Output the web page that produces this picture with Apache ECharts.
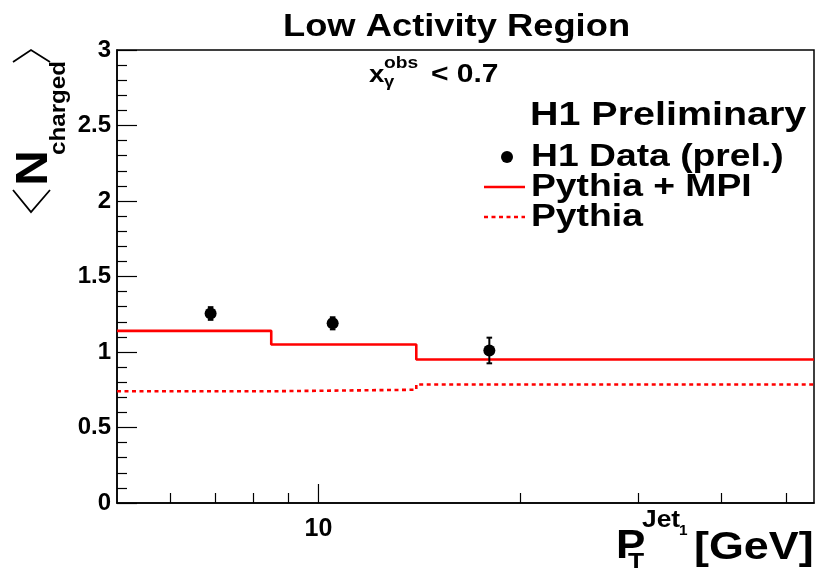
<!DOCTYPE html>
<html>
<head>
<meta charset="utf-8">
<script src="https://cdn.jsdelivr.net/npm/echarts@6/dist/echarts.min.js"></script>
<style>
  html, body { margin: 0; padding: 0; background: #fff; }
  #chart { width: 817px; height: 568px; }
</style>
</head>
<body>
<div id="chart"></div>
<script>
// Bin edges of the leading-jet transverse momentum (GeV)
const binEdges = [5, 8.5, 14, 55];
// Model predictions per bin
const pythiaMpi = [1.14, 1.05, 0.95];
const pythiaNoMpi = [0.74, 0.75, 0.785];
// Measured points: x position, mean multiplicity, uncertainty
const dataX = [6.9, 10.5, 18];
const dataY = [1.255, 1.19, 1.01];
const dataErr = [0.042, 0.04, 0.085];
// Axis ticks
const xMinorTicks = [6, 7, 8, 9, 20, 30, 40, 50];
const xMajorTicks = [10];
const xTickLabels = [10];
const yMin = 0, yMax = 3, yStep = 0.5;

const FONT = '"Liberation Sans", Arial, Helvetica, sans-serif';
const RED = '#ff0000';

// Histogram-style outline: each bin value held until the next edge
function stepData(edges, vals) {
  return edges.map((e, i) => [e, vals[Math.min(i, vals.length - 1)]]);
}

const chart = echarts.init(document.getElementById('chart'), null, { renderer: 'canvas' });

function txt(text, x, y, size, opts) {
  opts = opts || {};
  return {
    type: 'text', x: x, y: y,
    scaleX: opts.sx || 1.12,
    rotation: opts.rot || 0,
    z: 100,
    style: {
      text: text,
      font: 'bold ' + size + 'px ' + FONT,
      fill: '#000',
      align: opts.align || 'left',
      verticalAlign: 'middle'
    }
  };
}

const option = {
  animation: false,
  backgroundColor: '#fff',
  grid: {
    left: 117, top: 50, width: 697, height: 453,
    show: true, borderColor: '#000', borderWidth: 1.5, backgroundColor: 'transparent'
  },
  xAxis: {
    type: 'log', logBase: 10, min: binEdges[0], max: binEdges[binEdges.length - 1],
    axisLine: { show: true, lineStyle: { color: '#000', width: 1.5 } },
    axisTick: { show: true, inside: true, length: 10, customValues: xMinorTicks,
                lineStyle: { color: '#000', width: 1.2 } },
    axisLabel: { show: true, customValues: xTickLabels, margin: 14,
                 fontFamily: FONT, fontWeight: 'bold', fontSize: 25, color: '#000' },
    splitLine: { show: false }
  },
  yAxis: {
    type: 'value', min: yMin, max: yMax, interval: yStep,
    axisLine: { show: true, lineStyle: { color: '#000', width: 1.5 } },
    axisTick: { show: true, inside: true, length: 20, lineStyle: { color: '#000', width: 1.2 } },
    minorTick: { show: true, splitNumber: 5, length: 10, lineStyle: { color: '#000', width: 1.2 } },
    axisLabel: { margin: 6, fontFamily: FONT, fontWeight: 'bold', fontSize: 24, color: '#000' },
    splitLine: { show: false }
  },
  series: [
    {
      name: 'Pythia + MPI', type: 'line', step: 'end',
      data: stepData(binEdges, pythiaMpi),
      showSymbol: false, symbol: 'none',
      lineStyle: { color: RED, width: 2.6 }, z: 3
    },
    {
      name: 'Pythia', type: 'line', step: 'end',
      data: stepData(binEdges, pythiaNoMpi),
      showSymbol: false, symbol: 'none',
      lineStyle: { color: RED, width: 2.6, type: [4, 3.5] }, z: 3
    },
    {
      // major tick at 10, longer than the minor ones
      type: 'custom', silent: true, z: 2,
      data: xMajorTicks.map(v => [v, yMin]),
      renderItem: function (params, api) {
        const p = api.coord([api.value(0), api.value(1)]);
        return { type: 'line', shape: { x1: p[0], y1: p[1], x2: p[0], y2: p[1] - 19 },
                 style: { stroke: '#000', lineWidth: 1.2 } };
      }
    },
    {
      name: 'H1 Data errors', type: 'custom', z: 5,
      data: dataX.map((x, i) => [x, dataY[i], dataErr[i]]),
      renderItem: function (params, api) {
        const x = api.value(0), y = api.value(1), e = api.value(2);
        const t = api.coord([x, y + e]);
        const b = api.coord([x, y - e]);
        const c = 2.8;
        const st = { stroke: '#000', lineWidth: 2 };
        return { type: 'group', children: [
          { type: 'line', shape: { x1: t[0], y1: t[1], x2: b[0], y2: b[1] }, style: st },
          { type: 'line', shape: { x1: t[0] - c, y1: t[1], x2: t[0] + c, y2: t[1] }, style: st },
          { type: 'line', shape: { x1: b[0] - c, y1: b[1], x2: b[0] + c, y2: b[1] }, style: st }
        ] };
      }
    },
    {
      name: 'H1 Data (prel.)', type: 'scatter', z: 6,
      data: dataX.map((x, i) => [x, dataY[i]]),
      symbol: 'circle', symbolSize: 12,
      itemStyle: { color: '#000', opacity: 1 }
    }
  ],
  graphic: [
    txt('Low Activity Region', 283, 27, 32, { sx: 1.135 }),
    // x_gamma^obs < 0.7
    txt('x', 369, 75, 24, { sx: 1.15 }),
    txt('obs', 384, 64, 16, { sx: 1.2 }),
    txt('\u03b3', 384, 83, 16, { sx: 1.15 }),
    txt('< 0.7', 431, 75, 25, { sx: 1.2 }),
    txt('H1 Preliminary', 530, 116, 34, { sx: 1.16 }),
    // legend
    { type: 'circle', shape: { cx: 507, cy: 157, r: 6 }, style: { fill: '#000' }, z: 100 },
    txt('H1 Data (prel.)', 531, 157, 32, { sx: 1.165 }),
    { type: 'line', shape: { x1: 484, y1: 187, x2: 525, y2: 187 }, style: { stroke: RED, lineWidth: 2.6 }, z: 100 },
    txt('Pythia + MPI', 531, 187, 32, { sx: 1.165 }),
    { type: 'line', shape: { x1: 484, y1: 217, x2: 525, y2: 217 }, style: { stroke: RED, lineWidth: 2.6, lineDash: [4, 3.5] }, z: 100 },
    txt('Pythia', 531, 217, 32, { sx: 1.165 }),
    // y-axis title <N_charged>
    { type: 'polyline', shape: { points: [[13, 62], [31, 50], [50, 62]] }, style: { stroke: '#000', lineWidth: 1.8, fill: null }, z: 100 },
    { type: 'polyline', shape: { points: [[13, 190], [31, 212], [50, 190]] }, style: { stroke: '#000', lineWidth: 1.8, fill: null }, z: 100 },
    txt('N', 35, 168, 44, { sx: 1.12, rot: Math.PI / 2, align: 'center' }),
    txt('charged', 59, 108, 22, { sx: 1.1, rot: Math.PI / 2, align: 'center' }),
    // x-axis title P_T^{Jet_1} [GeV]
    txt('P', 616, 547, 40, { sx: 1.1 }),
    txt('T', 628, 563, 24, { sx: 1.1 }),
    txt('Jet', 642, 520, 24, { sx: 1.1 }),
    txt('1', 679, 531, 14, { sx: 1.1 }),
    txt('[GeV]', 694, 548, 39, { sx: 1.15 })
  ]
};

chart.setOption(option);
</script>
</body>
</html>
